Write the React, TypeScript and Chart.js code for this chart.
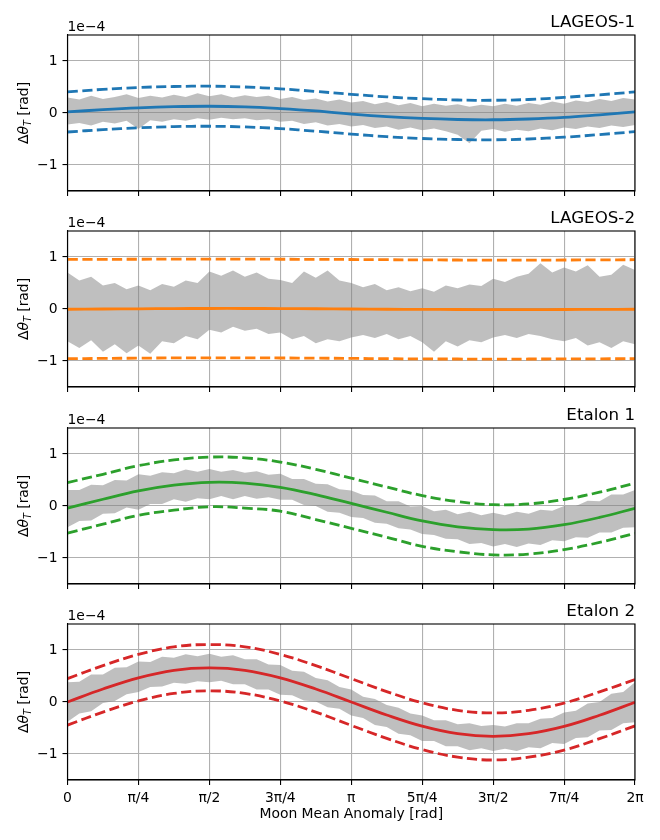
import { useEffect, useRef } from "react";
import { Chart, registerables } from "chart.js";

Chart.register(...registerables);

// anomaly in degrees, shown on the axis as multiples of pi
const fitAnomaly = [0, 22.5, 45, 67.5, 90, 112.5, 135, 157.5, 180, 202.5, 225, 247.5, 270, 292.5, 315, 337.5, 360];
const noiseAnomaly = [
  0, 7.5, 15, 22.5, 30, 37.5, 45, 52.5, 60, 67.5, 75, 82.5, 90, 97.5, 105, 112.5, 120, 127.5, 135, 142.5, 150, 157.5,
  165, 172.5, 180, 187.5, 195, 202.5, 210, 217.5, 225, 232.5, 240, 247.5, 255, 262.5, 270, 277.5, 285, 292.5, 300,
  307.5, 315, 322.5, 330, 337.5, 345, 352.5, 360,
];
const xTickValues = [0, 45, 90, 135, 180, 225, 270, 315, 360];
const xTickLabels = ["0", "π/4", "π/2", "3π/4", "π", "5π/4", "3π/2", "7π/4", "2π"];
const yTickValues = [-1, 0, 1];
const yTickLabels = ["−1", "0", "1"];

// values in units of 1e-4 rad
const lageos1Fit = [0.02, 0.065, 0.1, 0.122, 0.13, 0.118, 0.085, 0.04, -0.02, -0.07, -0.105, -0.125, -0.13, -0.115, -0.085, -0.035, 0.02];
const lageos1Upper = [0.405, 0.455, 0.49, 0.51, 0.515, 0.5, 0.465, 0.415, 0.36, 0.31, 0.275, 0.25, 0.245, 0.26, 0.3, 0.35, 0.405];
const lageos1Lower = [-0.365, -0.32, -0.285, -0.262, -0.255, -0.268, -0.3, -0.35, -0.405, -0.455, -0.49, -0.51, -0.515, -0.5, -0.465, -0.415, -0.36];
const lageos1High = [
  0.3, 0.26, 0.33, 0.27, 0.31, 0.36, 0.29, 0.33, 0.3, 0.35, 0.31, 0.38, 0.32, 0.36, 0.3, 0.34, 0.31, 0.33, 0.27, 0.31,
  0.25, 0.28, 0.22, 0.26, 0.2, 0.23, 0.17, 0.21, 0.15, 0.19, 0.13, 0.18, 0.14, 0.17, 0.12, 0.16, 0.13, 0.18, 0.14, 0.19,
  0.16, 0.22, 0.18, 0.24, 0.21, 0.27, 0.23, 0.29, 0.26,
];
const lageos1Low = [
  -0.22, -0.19, -0.24, -0.17, -0.2, -0.15, -0.31, -0.14, -0.17, -0.12, -0.15, -0.1, -0.13, -0.09, -0.12, -0.1, -0.14,
  -0.12, -0.17, -0.15, -0.21, -0.18, -0.24, -0.21, -0.26, -0.23, -0.29, -0.26, -0.32, -0.28, -0.33, -0.3, -0.35, -0.42,
  -0.58, -0.34, -0.31, -0.36, -0.32, -0.35, -0.3, -0.33, -0.28, -0.31, -0.26, -0.29, -0.24, -0.27, -0.23,
];

const lageos2Fit = [-0.005, 0, 0.004, 0.008, 0.01, 0.01, 0.008, 0.005, 0, -0.005, -0.008, -0.01, -0.012, -0.012, -0.01, -0.008, -0.005];
const lageos2Upper = [0.955, 0.955, 0.957, 0.958, 0.96, 0.958, 0.957, 0.955, 0.952, 0.948, 0.945, 0.942, 0.94, 0.94, 0.942, 0.945, 0.948];
const lageos2Lower = [-0.955, -0.95, -0.945, -0.94, -0.938, -0.94, -0.942, -0.945, -0.95, -0.955, -0.96, -0.962, -0.963, -0.962, -0.96, -0.958, -0.955];
const lageos2High = [
  0.7, 0.55, 0.62, 0.45, 0.5, 0.38, 0.45, 0.36, 0.48, 0.43, 0.55, 0.5, 0.72, 0.64, 0.74, 0.62, 0.7, 0.58, 0.56, 0.5,
  0.72, 0.6, 0.74, 0.55, 0.5, 0.42, 0.48, 0.36, 0.42, 0.34, 0.4, 0.33, 0.45, 0.4, 0.47, 0.44, 0.58, 0.52, 0.62, 0.68,
  0.88, 0.7, 0.8, 0.72, 0.84, 0.62, 0.66, 0.85, 0.75,
];
const lageos2Low = [
  -0.62, -0.75, -0.6, -0.82, -0.68, -0.85, -0.7, -0.86, -0.62, -0.66, -0.52, -0.58, -0.4, -0.45, -0.34, -0.42, -0.38,
  -0.48, -0.45, -0.58, -0.52, -0.66, -0.58, -0.62, -0.55, -0.5, -0.56, -0.48, -0.58, -0.52, -0.64, -0.82, -0.62, -0.72,
  -0.6, -0.64, -0.55, -0.5, -0.56, -0.48, -0.52, -0.58, -0.62, -0.56, -0.7, -0.64, -0.75, -0.62, -0.68,
];

const etalon1Fit = [-0.04, 0.13, 0.29, 0.4, 0.455, 0.44, 0.36, 0.22, 0.05, -0.12, -0.285, -0.4, -0.455, -0.445, -0.36, -0.22, -0.045];
const etalon1Upper = [0.45, 0.61, 0.775, 0.885, 0.94, 0.925, 0.845, 0.705, 0.535, 0.365, 0.2, 0.085, 0.025, 0.04, 0.125, 0.265, 0.44];
const etalon1Lower = [-0.52, -0.35, -0.18, -0.08, -0.015, -0.04, -0.1, -0.26, -0.43, -0.6, -0.775, -0.88, -0.94, -0.925, -0.84, -0.7, -0.525];
const etalon1High = [
  0.31, 0.31, 0.41, 0.4, 0.5, 0.49, 0.61, 0.58, 0.65, 0.63, 0.7, 0.66, 0.71, 0.66, 0.69, 0.64, 0.67, 0.6, 0.62, 0.52,
  0.52, 0.43, 0.42, 0.32, 0.3, 0.21, 0.2, 0.09, 0.09, -0.01, 0, -0.1, -0.07, -0.16, -0.11, -0.18, -0.13, -0.18, -0.11,
  -0.15, -0.07, -0.09, 0, 0, 0.1, 0.09, 0.22, 0.22, 0.31,
];
const etalon1Low = [
  -0.41, -0.29, -0.28, -0.15, -0.14, -0.03, -0.07, 0.04, 0.04, 0.13, 0.08, 0.15, 0.13, 0.19, 0.13, 0.19, 0.14, 0.17,
  0.12, 0.12, 0.02, 0, -0.11, -0.13, -0.21, -0.23, -0.32, -0.34, -0.43, -0.45, -0.54, -0.56, -0.63, -0.64, -0.73,
  -0.71, -0.78, -0.73, -0.79, -0.72, -0.75, -0.66, -0.68, -0.6, -0.61, -0.51, -0.51, -0.42, -0.41,
];

const etalon2Fit = [0, 0.25, 0.465, 0.61, 0.655, 0.61, 0.465, 0.25, 0, -0.25, -0.465, -0.61, -0.66, -0.61, -0.47, -0.255, -0.005];
const etalon2Upper = [0.45, 0.7, 0.915, 1.06, 1.105, 1.06, 0.915, 0.7, 0.45, 0.2, -0.015, -0.16, -0.21, -0.16, -0.02, 0.195, 0.43];
const etalon2Lower = [-0.445, -0.195, 0.02, 0.165, 0.215, 0.165, 0.02, -0.195, -0.45, -0.7, -0.915, -1.06, -1.115, -1.06, -0.925, -0.705, -0.46];
const etalon2High = [
  0.38, 0.39, 0.53, 0.53, 0.66, 0.67, 0.78, 0.77, 0.87, 0.85, 0.92, 0.88, 0.93, 0.87, 0.9, 0.82, 0.82, 0.72, 0.71, 0.6,
  0.58, 0.46, 0.42, 0.29, 0.24, 0.1, 0.06, -0.06, -0.11, -0.22, -0.26, -0.35, -0.35, -0.43, -0.41, -0.46, -0.44, -0.47,
  -0.41, -0.41, -0.32, -0.31, -0.2, -0.17, -0.03, 0, 0.16, 0.19, 0.38,
];
const etalon2Low = [
  -0.38, -0.22, -0.18, -0.02, 0.02, 0.15, 0.19, 0.29, 0.3, 0.37, 0.35, 0.4, 0.38, 0.41, 0.34, 0.34, 0.24, 0.24, 0.14,
  0.13, 0.03, 0.01, -0.1, -0.13, -0.26, -0.31, -0.44, -0.48, -0.61, -0.64, -0.75, -0.75, -0.85, -0.85, -0.93, -0.89,
  -0.94, -0.9, -0.94, -0.87, -0.89, -0.79, -0.81, -0.69, -0.68, -0.55, -0.54, -0.41, -0.39,
];

const FONT = '"DejaVu Sans", sans-serif';
const GREY = "rgba(128, 128, 128, 0.5)";

interface PanelProps {
  top: number;
  height: number;
  title: string;
  color: string;
  fit: number[];
  upper: number[];
  lower: number[];
  noiseHigh: number[];
  noiseLow: number[];
  bottomAxis?: boolean;
}

const toPoints = (xs: number[], ys: number[]) => xs.map((x, i) => ({ x, y: ys[i] }));

function Panel({ top, height, title, color, fit, upper, lower, noiseHigh, noiseLow, bottomAxis = false }: PanelProps) {
  const chartRef = useRef<HTMLCanvasElement>(null);

  useEffect(() => {
    if (!chartRef.current) return;

    const xAxisHeight = bottomAxis ? 60 : 5;

    const decor = {
      id: "decor",
      afterDraw(chart: Chart) {
        const { ctx, chartArea } = chart;
        const { left, right, top: t, bottom } = chartArea;
        ctx.save();
        // frame
        ctx.strokeStyle = "#000";
        ctx.lineWidth = 1.1;
        ctx.strokeRect(left, t, right - left, bottom - t);
        // title
        ctx.fillStyle = "#000";
        ctx.textBaseline = "alphabetic";
        ctx.font = `16.7px ${FONT}`;
        ctx.textAlign = "right";
        ctx.fillText(title, right, t - 8);
        // offset text
        ctx.font = `13.9px ${FONT}`;
        ctx.textAlign = "left";
        ctx.fillText("1e−4", left, t - 4.5);
        // y label with subscript
        ctx.translate(28.3, (t + bottom) / 2);
        ctx.rotate(-Math.PI / 2);
        const parts = [
          { text: "Δ", font: `13.9px ${FONT}`, dy: 0 },
          { text: "θ", font: `italic 13.9px ${FONT}`, dy: 0 },
          { text: "T", font: `italic 9.7px ${FONT}`, dy: 2.6 },
          { text: " [rad]", font: `13.9px ${FONT}`, dy: 0 },
        ];
        let total = 0;
        for (const p of parts) {
          ctx.font = p.font;
          total += ctx.measureText(p.text).width;
        }
        let x = -total / 2;
        for (const p of parts) {
          ctx.font = p.font;
          ctx.fillText(p.text, x, p.dy);
          x += ctx.measureText(p.text).width;
        }
        ctx.restore();
      },
    };

    const chart = new Chart(chartRef.current, {
      type: "line",
      data: {
        datasets: [
          { data: toPoints(fitAnomaly, fit), borderColor: color, borderWidth: 2.8, tension: 0.4, pointRadius: 0, fill: false },
          {
            data: toPoints(fitAnomaly, upper),
            borderColor: color,
            borderWidth: 2.8,
            borderDash: [10.3, 4.5],
            tension: 0.4,
            pointRadius: 0,
            fill: false,
          },
          {
            data: toPoints(fitAnomaly, lower),
            borderColor: color,
            borderWidth: 2.8,
            borderDash: [10.3, 4.5],
            tension: 0.4,
            pointRadius: 0,
            fill: false,
          },
          {
            data: toPoints(noiseAnomaly, noiseHigh),
            borderColor: "rgba(0, 0, 0, 0)",
            backgroundColor: GREY,
            borderWidth: 1,
            pointRadius: 0,
            tension: 0,
            fill: "+1",
          },
          {
            data: toPoints(noiseAnomaly, noiseLow),
            borderColor: "rgba(0, 0, 0, 0)",
            borderWidth: 1,
            pointRadius: 0,
            tension: 0,
            fill: false,
          },
        ],
      },
      options: {
        animation: false,
        responsive: true,
        maintainAspectRatio: false,
        events: [],
        layout: { padding: { left: 0, right: 25, top: 35, bottom: height - 35 - 156 - xAxisHeight } },
        plugins: { legend: { display: false }, tooltip: { enabled: false } },
        scales: {
          x: {
            type: "linear",
            min: 0,
            max: 360,
            afterBuildTicks: (scale) => {
              scale.ticks = xTickValues.map((v) => ({ value: v }));
            },
            afterFit: (scale) => {
              scale.height = xAxisHeight;
              scale.paddingLeft = 0;
              scale.paddingRight = 0;
            },
            ticks: {
              display: bottomAxis,
              autoSkip: false,
              maxRotation: 0,
              padding: 5,
              color: "#000",
              font: { family: FONT, size: 13.9 },
              callback: (v) => xTickLabels[xTickValues.indexOf(Number(v))],
            },
            grid: { color: "#b0b0b0", lineWidth: 1.1, tickColor: "#000", tickLength: 5, tickWidth: 1.1 },
            border: { color: "#000", width: 1.1 },
            title: {
              display: bottomAxis,
              text: "Moon Mean Anomaly [rad]",
              color: "#000",
              font: { family: FONT, size: 13.9 },
              padding: { top: 0, bottom: 16.8 },
            },
          },
          y: {
            type: "linear",
            min: -1.5,
            max: 1.5,
            afterBuildTicks: (scale) => {
              scale.ticks = yTickValues.map((v) => ({ value: v }));
            },
            afterFit: (scale) => {
              scale.width = 67.5;
              scale.paddingTop = 0;
              scale.paddingBottom = 0;
            },
            ticks: {
              padding: 5,
              color: "#000",
              font: { family: FONT, size: 13.9 },
              callback: (v) => yTickLabels[yTickValues.indexOf(Number(v))],
            },
            grid: { color: "#b0b0b0", lineWidth: 1.1, tickColor: "#000", tickLength: 5, tickWidth: 1.1 },
            border: { color: "#000", width: 1.1 },
          },
        },
      },
      plugins: [decor],
    });

    return () => chart.destroy();
  }, [height, title, color, fit, upper, lower, noiseHigh, noiseLow, bottomAxis]);

  return (
    <div style={{ position: "absolute", left: 0, top, width: 660, height }}>
      <canvas ref={chartRef} />
    </div>
  );
}

export default function App() {
  return (
    <div style={{ position: "fixed", left: 0, top: 0, width: 660, height: 840, background: "#fff" }}>
      <Panel top={0} height={196} title="LAGEOS-1" color="#1f77b4" fit={lageos1Fit} upper={lageos1Upper} lower={lageos1Lower} noiseHigh={lageos1High} noiseLow={lageos1Low} />
      <Panel top={196} height={197} title="LAGEOS-2" color="#ff7f0e" fit={lageos2Fit} upper={lageos2Upper} lower={lageos2Lower} noiseHigh={lageos2High} noiseLow={lageos2Low} />
      <Panel top={393} height={196} title="Etalon 1" color="#2ca02c" fit={etalon1Fit} upper={etalon1Upper} lower={etalon1Lower} noiseHigh={etalon1High} noiseLow={etalon1Low} />
      <Panel top={589} height={251} title="Etalon 2" color="#d62728" fit={etalon2Fit} upper={etalon2Upper} lower={etalon2Lower} noiseHigh={etalon2High} noiseLow={etalon2Low} bottomAxis />
    </div>
  );
}
